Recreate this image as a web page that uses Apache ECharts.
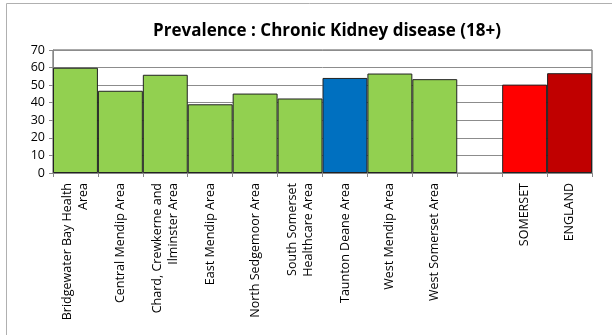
<!DOCTYPE html>
<html><head><meta charset="utf-8">
<script src="https://cdn.jsdelivr.net/npm/echarts@6/dist/echarts.min.js"></script>
<style>html,body{margin:0;padding:0;background:#fff;}#c{width:612px;height:335px;}</style>
</head><body><div id="c"></div>
<script>
const categories = ["Bridgewater Bay Health\nArea","Central Mendip Area","Chard, Crewkerne and\nIlminster Area","East Mendip Area","North Sedgemoor Area","South Somerset\nHealthcare Area","Taunton Deane Area","West Mendip Area","West Somerset Area","","SOMERSET","ENGLAND"];
const values = [59.9, 46.8, 55.9, 39.1, 45.2, 42.4, 54.1, 56.6, 53.4, null, 50.3, 56.8];
const barColors = ["#92D050","#92D050","#92D050","#92D050","#92D050","#92D050","#0070C0","#92D050","#92D050","#92D050","#FF0000","#C00000"];
const yTicks = [0,10,20,30,40,50,60,70];

const chart = echarts.init(document.getElementById('c'), null, {renderer:'canvas'});
chart.setOption({
  animation:false,
  backgroundColor:'#fff',
  graphic:[{type:'rect',shape:{x:6.5,y:3.5,width:700,height:500},style:{fill:'none',stroke:'#b0b0b0',lineWidth:1},silent:true,z:-1}],
  title:{text:'Prevalence : Chronic Kidney disease (18+)',left:322,top:18,textAlign:'center',
    textStyle:{fontFamily:'Open Sans',fontWeight:'bold',fontSize:17,color:'#000'}},
  grid:{left:53,right:20,top:50,bottom:162,show:true,borderColor:'#555',borderWidth:1,backgroundColor:'transparent'},
  xAxis:{type:'category',data:categories,
    axisLine:{lineStyle:{color:'#888'}},
    axisTick:{show:true,alignWithLabel:false,length:4,lineStyle:{color:'#888'}},
    axisLabel:{rotate:90,interval:0,fontFamily:'Open Sans',fontSize:12.5,color:'#000',margin:10,lineHeight:16}},
  yAxis:{type:'value',min:0,max:70,interval:10,
    axisLine:{show:true,lineStyle:{color:'#888'}},
    axisTick:{show:true,length:4,lineStyle:{color:'#888'}},
    axisLabel:{fontFamily:'Open Sans',fontSize:12.5,color:'#000',margin:8,
      formatter:v=>yTicks.includes(v)?String(v):''},
    splitLine:{show:true,lineStyle:{color:'#8c8c8c',width:1}}},
  series:[{type:'bar',data:values.map((v,i)=>({value:v,itemStyle:{color:barColors[i]}})),
    barCategoryGap:'0%',
    itemStyle:{borderColor:'#222',borderWidth:1}}]
});
</script></body></html>
